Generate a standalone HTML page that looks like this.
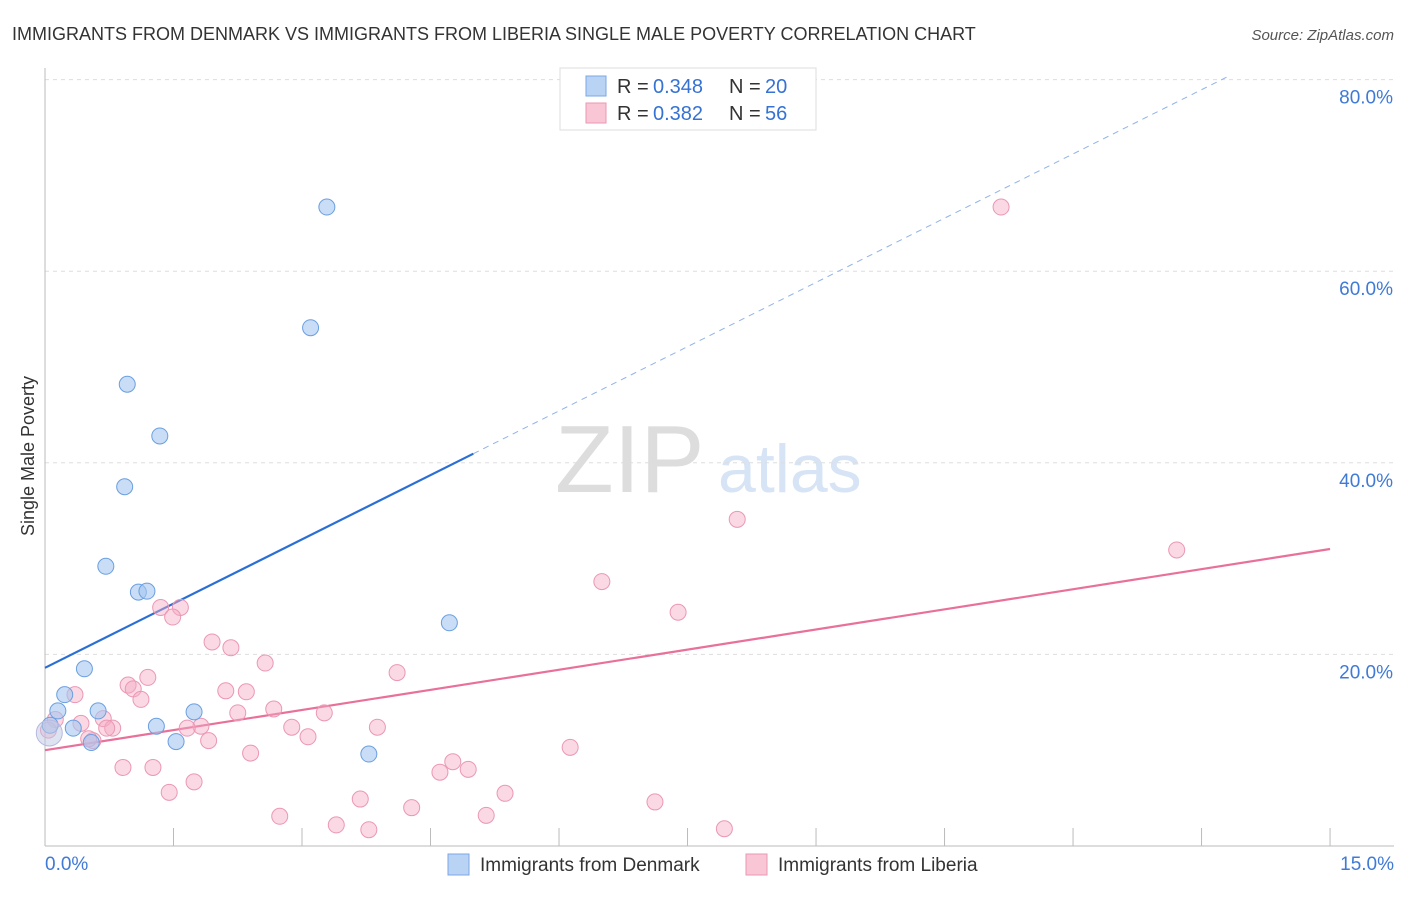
<!DOCTYPE html>
<html><head><meta charset="utf-8"><style>
body{margin:0;background:#fff;font-family:"Liberation Sans",sans-serif;}
svg text{font-family:"Liberation Sans",sans-serif;}
</style></head><body>
<svg id="chart" width="1406" height="892" xmlns="http://www.w3.org/2000/svg">
<text x="12" y="40" font-size="18" fill="#333">IMMIGRANTS FROM DENMARK VS IMMIGRANTS FROM LIBERIA SINGLE MALE POVERTY CORRELATION CHART</text>
<text x="1394" y="40" font-size="15" fill="#555" font-style="italic" text-anchor="end">Source: ZipAtlas.com</text>
<text x="34" y="456" font-size="18" fill="#333" text-anchor="middle" transform="rotate(-90 34 456)">Single Male Poverty</text>
<text x="555" y="492" font-size="96" fill="#ddd" font-family="Liberation Serif">ZIP</text>
<text x="718" y="492" font-size="68" fill="#d6e4f5">atlas</text>
<g id="grid"></g><g id="lines"></g><g id="dots"></g>
<g>
<rect x="560" y="68" width="256" height="62" fill="#fff" stroke="#ddd"/>
<rect x="586" y="76" width="20" height="20" fill="#b9d3f5" stroke="#7aa7e6"/>
<text x="617" y="93" font-size="20" fill="#333">R =</text>
<text x="653" y="93" font-size="20" fill="#3572d4">0.348</text>
<text x="729" y="93" font-size="20" fill="#333">N =</text>
<text x="765" y="93" font-size="20" fill="#3572d4">20</text>
<rect x="586" y="103" width="20" height="20" fill="#f9c6d6" stroke="#eb97b4"/>
<text x="617" y="120" font-size="20" fill="#333">R =</text>
<text x="653" y="120" font-size="20" fill="#3572d4">0.382</text>
<text x="729" y="120" font-size="20" fill="#333">N =</text>
<text x="765" y="120" font-size="20" fill="#3572d4">56</text>
</g>
<g>
<rect x="448" y="854" width="21" height="21" fill="#b9d3f5" stroke="#7aa7e6"/>
<text x="480" y="871" font-size="19" fill="#333">Immigrants from Denmark</text>
<rect x="746" y="854" width="21" height="21" fill="#f9c6d6" stroke="#eb97b4"/>
<text x="778" y="871" font-size="19" fill="#333">Immigrants from Liberia</text>
</g>
</svg>
<script>
const yTicks=[20,40,60,80];
const yTickLabels=["20.0%","40.0%","60.0%","80.0%"];
const xTickCount=11;
const xLabels=["0.0%","15.0%"];
const denX=[3.29,3.10,0.96,1.34,0.93,0.71,1.09,1.19,0.46,0.23,0.15,0.62,0.33,0.06,1.30,1.74,1.53,0.54,3.78,4.72];
const denY=[66.7,54.1,48.2,42.8,37.5,29.2,26.5,26.6,18.5,15.8,14.1,14.1,12.3,12.6,12.5,14.0,10.9,10.8,9.6,23.3];
const libX=[11.16,8.08,13.21,6.50,7.39,1.35,1.58,1.49,1.95,2.17,2.57,4.11,1.20,0.97,1.03,1.12,0.35,2.11,2.35,2.67,2.25,3.26,0.68,0.42,1.82,1.66,0.79,0.72,2.88,3.88,3.07,1.91,0.56,0.51,6.13,2.40,0.91,1.26,4.76,4.61,4.94,1.74,1.45,5.37,3.68,4.28,7.12,2.74,3.40,3.78,5.15,7.93,0.12,0.04];
const libY=[66.7,34.1,30.9,27.6,24.4,24.9,24.9,23.9,21.3,20.7,19.1,18.1,17.6,16.8,16.4,15.3,15.8,16.2,16.1,14.3,13.9,13.9,13.3,12.8,12.5,12.3,12.3,12.3,12.4,12.4,11.4,11.0,11.0,11.2,10.3,9.7,8.2,8.2,8.8,7.7,8.0,6.7,5.6,5.5,4.9,4.0,4.6,3.1,2.2,1.7,3.2,1.8,13.2,12.1];
const denTrend=[18.6,4.47]; // intercept, slope
const libTrend=[10.0,1.4];
const sx=v=>45+v*85.67, sy=v=>846-v*9.58;
const NS="http://www.w3.org/2000/svg";
function mk(t,a,p){const e=document.createElementNS(NS,t);for(const k in a)e.setAttribute(k,a[k]);p.appendChild(e);return e;}
const grid=document.getElementById('grid'),lines=document.getElementById('lines'),dots=document.getElementById('dots');
yTicks.forEach((t,i)=>{
 const l=mk('line',{x1:45,x2:1394,y1:sy(t),y2:sy(t),stroke:'#ddd','stroke-dasharray':'4,4'},grid);
 
 
 const tx=mk('text',{x:1393,y:sy(t)+24,'font-size':19,fill:'#3f7ad6','text-anchor':'end'},grid);
 tx.textContent=yTickLabels[i];
 
 
});
const ax=mk('line',{x1:45,x2:1394,y1:846,y2:846,stroke:'#bbb'},grid);


const ay=mk('line',{x1:45,x2:45,y1:68,y2:846,stroke:'#bbb'},grid);


for(let i=0;i<xTickCount;i++){const x=sx(i*1.5);const t=mk('line',{x1:x,x2:x,y1:828,y2:846,stroke:'#bbb'},grid);
 
 }
const xl0=mk('text',{x:45,y:870,'font-size':19,fill:'#3f7ad6'},grid);xl0.textContent=xLabels[0];


const xl1=mk('text',{x:1394,y:870,'font-size':19,fill:'#3f7ad6','text-anchor':'end'},grid);xl1.textContent=xLabels[1];


const f=(tr,x)=>tr[0]+tr[1]*x;
let l1=mk('line',{x1:sx(0),y1:sy(f(denTrend,0)),x2:sx(5),y2:sy(f(denTrend,5)),stroke:'#2b6fd6','stroke-width':2.2},lines);


let l2=mk('line',{x1:sx(5),y1:sy(f(denTrend,5)),x2:sx(13.83),y2:sy(f(denTrend,13.83)),stroke:'#8fb3e8','stroke-width':1,'stroke-dasharray':'6,5'},lines);


let l3=mk('line',{x1:sx(0),y1:sy(f(libTrend,0)),x2:sx(15),y2:sy(f(libTrend,15)),stroke:'#e8709a','stroke-width':2.2},lines);


libX.forEach((x,i)=>{const c=mk('circle',{cx:sx(x),cy:sy(libY[i]),r:8,fill:'rgba(245,170,195,0.45)',stroke:'#eb97b4','stroke-width':1},dots);
 
 });
denX.forEach((x,i)=>{const c=mk('circle',{cx:sx(x),cy:sy(denY[i]),r:8,fill:'rgba(165,198,240,0.6)',stroke:'#6a9fe0','stroke-width':1},dots);
 
 });
const big=mk('circle',{cx:sx(0.05),cy:sy(11.8),r:13,fill:'rgba(190,200,230,0.5)',stroke:'#b8b8e0','stroke-width':1},dots);


</script>
</body></html>
